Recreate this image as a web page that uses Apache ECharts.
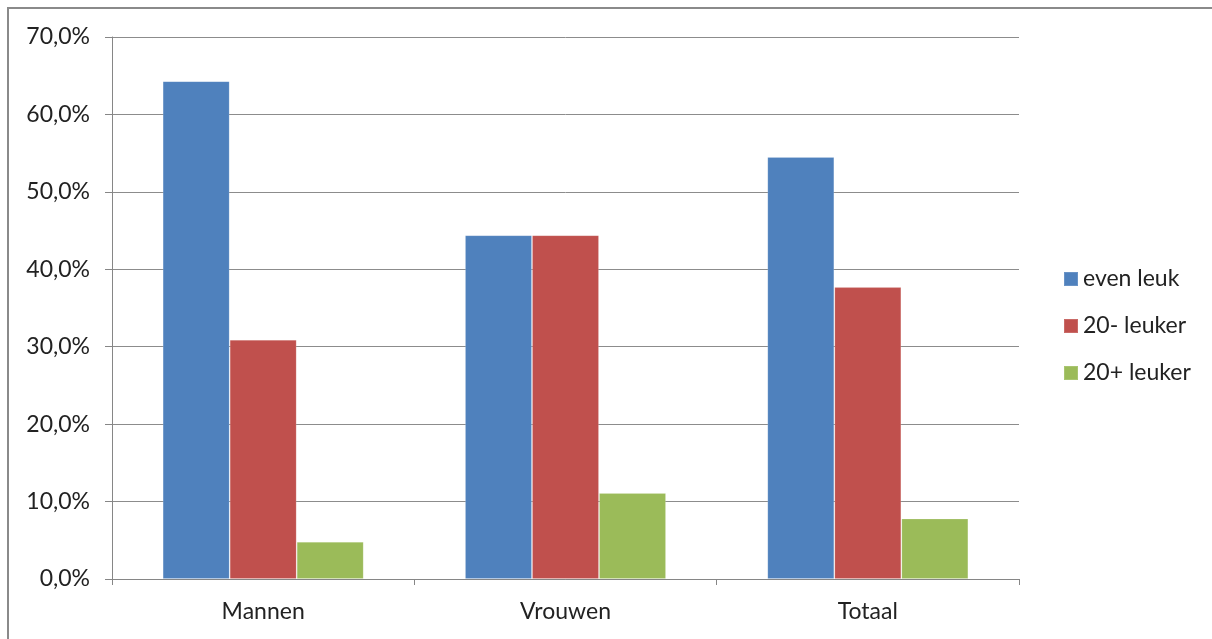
<!DOCTYPE html>
<html>
<head>
<meta charset="utf-8">
<script src="https://cdn.jsdelivr.net/npm/echarts@6/dist/echarts.min.js"></script>
<style>
html,body{margin:0;padding:0;background:#fff;}
#chart{width:1212px;height:639px;}
</style>
</head>
<body>
<div id="chart"></div>
<script>
const categories = ['Mannen', 'Vrouwen', 'Totaal'];
const seriesNames = ['even leuk', '20- leuker', '20+ leuker'];
const evenLeuk = [64.3, 44.4, 54.5];
const leuker20min = [30.9, 44.4, 37.7];
const leuker20plus = [4.8, 11.1, 7.8];
const colors = ['#4F81BD', '#C0504D', '#9BBB59'];

const font = 'Lato, "Open Sans", sans-serif';
const axisColor = '#868686';

const chart = echarts.init(document.getElementById('chart'), null, {renderer: 'canvas'});
const dataSets = [evenLeuk, leuker20min, leuker20plus];

chart.setOption({
  animation: false,
  backgroundColor: '#ffffff',
  color: colors,
  graphic: [{
    type: 'rect',
    shape: {x: 8, y: 8, width: 1300, height: 700},
    style: {fill: 'none', stroke: '#8a8a8a', lineWidth: 2},
    silent: true,
    z: -1
  }],
  grid: {left: 112, right: 193, top: 37, bottom: 60, containLabel: false},
  legend: {
    orient: 'vertical',
    left: 1058,
    top: 262,
    itemWidth: 14,
    itemHeight: 14,
    itemGap: 23,
    icon: 'rect',
    textStyle: {fontFamily: font, fontSize: 23, color: '#222', lineHeight: 24},
    data: seriesNames
  },
  xAxis: {
    type: 'category',
    data: categories,
    axisLine: {lineStyle: {color: axisColor, width: 1}},
    axisTick: {show: true, length: 6, alignWithLabel: false, lineStyle: {color: axisColor}},
    axisLabel: {fontFamily: font, fontSize: 23, color: '#222', margin: 21}
  },
  yAxis: {
    type: 'value',
    min: 0,
    max: 70,
    interval: 10,
    axisLine: {show: true, lineStyle: {color: axisColor, width: 1}},
    axisTick: {show: true, length: 7, lineStyle: {color: axisColor}},
    splitLine: {show: true, lineStyle: {color: '#8c8c8c', width: 1}},
    axisLabel: {
      fontFamily: font, fontSize: 23, color: '#222', margin: 22,
      formatter: v => v.toFixed(1).replace('.', ',') + '%'
    }
  },
  series: seriesNames.map((name, i) => ({
    name: name,
    type: 'bar',
    data: dataSets[i],
    barGap: '0%',
    barCategoryGap: '33.5%',
    itemStyle: {color: colors[i], borderColor: 'rgba(255,255,255,0.15)', borderWidth: 1}
  }))
});
</script>
</body>
</html>
